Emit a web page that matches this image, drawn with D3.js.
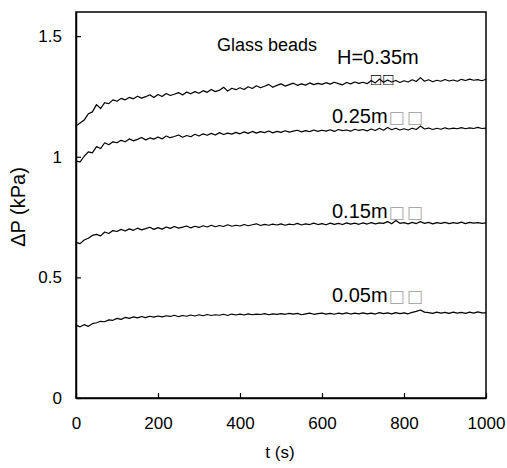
<!DOCTYPE html>
<html><head><meta charset="utf-8">
<script src="https://cdn.jsdelivr.net/npm/d3@7"></script>
<style>
html,body{margin:0;padding:0;background:#fff;}
text{font-family:"Liberation Sans",Arial,sans-serif;fill:#000;}
</style></head>
<body><svg id="chart" width="507" height="468"></svg>
<script>
const times = d3.range(0, 1001, 10);
const xTicks = [0, 200, 400, 600, 800, 1000];
const yTicks = [0, 0.5, 1, 1.5];
const seriesNames = ["H=0.35m", "0.25m", "0.15m", "0.05m"];
const s35 = [
1.128,1.140,1.152,1.178,1.186,1.216,1.200,1.224,1.220,1.236,
1.230,1.242,1.236,1.246,1.240,1.251,1.243,1.249,1.257,1.246,
1.258,1.250,1.262,1.254,1.259,1.266,1.256,1.268,1.261,1.270,
1.263,1.274,1.267,1.279,1.270,1.276,1.288,1.272,1.284,1.278,
1.286,1.279,1.290,1.283,1.294,1.286,1.292,1.300,1.288,1.296,
1.302,1.293,1.299,1.305,1.296,1.302,1.297,1.306,1.299,1.304,
1.300,1.307,1.301,1.309,1.303,1.298,1.308,1.302,1.310,1.304,
1.309,1.303,1.316,1.306,1.322,1.309,1.318,1.310,1.316,1.308,
1.315,1.310,1.319,1.312,1.328,1.313,1.319,1.311,1.317,1.313,
1.320,1.314,1.318,1.313,1.321,1.316,1.322,1.317,1.320,1.315,
1.321];
const s25 = [
0.982,0.979,1.002,1.020,1.016,1.042,1.034,1.058,1.050,1.062,
1.058,1.068,1.062,1.074,1.066,1.072,1.080,1.070,1.078,1.073,
1.082,1.074,1.086,1.079,1.084,1.090,1.081,1.088,1.083,1.093,
1.086,1.095,1.089,1.097,1.090,1.100,1.092,1.098,1.094,1.101,
1.095,1.103,1.097,1.105,1.098,1.104,1.100,1.107,1.099,1.105,
1.101,1.108,1.102,1.106,1.110,1.103,1.108,1.104,1.111,1.105,
1.110,1.106,1.112,1.105,1.113,1.108,1.111,1.106,1.114,1.109,
1.113,1.107,1.115,1.109,1.118,1.110,1.121,1.112,1.118,1.111,
1.116,1.111,1.118,1.113,1.127,1.115,1.119,1.113,1.118,1.114,
1.120,1.115,1.119,1.116,1.121,1.116,1.120,1.117,1.122,1.117,
1.119];
const s15 = [
0.645,0.640,0.655,0.662,0.674,0.678,0.672,0.688,0.682,0.694,
0.690,0.699,0.692,0.701,0.695,0.704,0.697,0.702,0.708,0.699,
0.706,0.700,0.709,0.703,0.711,0.704,0.708,0.713,0.705,0.712,
0.707,0.714,0.709,0.716,0.710,0.715,0.711,0.718,0.712,0.716,
0.713,0.719,0.714,0.718,0.722,0.715,0.720,0.716,0.721,0.717,
0.722,0.716,0.721,0.718,0.724,0.717,0.722,0.719,0.725,0.719,
0.723,0.718,0.725,0.720,0.724,0.719,0.726,0.721,0.725,0.720,
0.726,0.721,0.727,0.722,0.726,0.724,0.731,0.722,0.736,0.724,
0.727,0.722,0.728,0.723,0.731,0.724,0.728,0.722,0.727,0.724,
0.728,0.723,0.727,0.724,0.729,0.723,0.728,0.725,0.727,0.724,
0.726];
const s05 = [
0.302,0.295,0.304,0.297,0.308,0.312,0.318,0.316,0.324,0.322,
0.330,0.326,0.334,0.330,0.336,0.332,0.338,0.333,0.339,0.335,
0.340,0.336,0.341,0.338,0.343,0.337,0.342,0.339,0.344,0.340,
0.345,0.341,0.346,0.342,0.345,0.343,0.347,0.342,0.348,0.344,
0.348,0.344,0.349,0.345,0.348,0.346,0.350,0.345,0.349,0.347,
0.350,0.347,0.351,0.348,0.351,0.345,0.349,0.352,0.347,0.350,
0.352,0.348,0.351,0.347,0.352,0.349,0.353,0.348,0.352,0.349,
0.353,0.349,0.352,0.348,0.354,0.350,0.353,0.349,0.354,0.350,
0.353,0.349,0.355,0.359,0.365,0.356,0.354,0.351,0.356,0.352,
0.355,0.351,0.356,0.352,0.355,0.351,0.356,0.352,0.357,0.353,
0.353];
const seriesValues = [s35, s25, s15, s05];

const svg = d3.select("#chart");
const L = 76, R = 486, T = 12, B = 398;
const x = d3.scaleLinear().domain([0, 1000]).range([L, R]);
const y = d3.scaleLinear().domain([0, 1.6]).range([B, T]);

svg.append("rect").attr("x", L).attr("y", T).attr("width", R - L).attr("height", B - T)
  .attr("fill", "none").attr("stroke", "#000").attr("stroke-width", 1.5);

const gx = svg.append("g").attr("transform", `translate(0,${B})`)
  .call(d3.axisBottom(x).tickValues(xTicks).tickFormat(d3.format("d")).tickSizeInner(-5).tickSizeOuter(0).tickPadding(19));
const gy = svg.append("g").attr("transform", `translate(${L},0)`)
  .call(d3.axisLeft(y).tickValues(yTicks).tickFormat(d => String(d)).tickSizeInner(-5).tickSizeOuter(0).tickPadding(14));
[gx, gy].forEach(g => {
  g.select(".domain").attr("stroke", "#000").attr("stroke-width", 1.5);
  g.selectAll(".tick line").attr("stroke", "#000").attr("stroke-width", 1.2);
  g.selectAll(".tick text").attr("font-size", 17).attr("font-family", "Liberation Sans, Arial, sans-serif").attr("fill", "#000");
});

svg.append("text").attr("x", 280).attr("y", 458).attr("text-anchor", "middle").attr("font-size", 17).text("t (s)");
svg.append("text").attr("transform", "translate(25,207) rotate(-90)").attr("text-anchor", "middle").attr("font-size", 20).text("ΔP (kPa)");

svg.append("text").attr("x", 217).attr("y", 51).attr("font-size", 18).text("Glass beads");
const labelPos = [[337, 64], [332, 123], [332, 218], [332, 302]];
seriesNames.forEach((n, i) => {
  const t = svg.append("text").attr("x", labelPos[i][0]).attr("y", labelPos[i][1]).attr("font-size", 20).text(n);
  if (i > 0) {
    t.append("tspan").attr("font-family", "DejaVu Sans").attr("font-size", 17).attr("fill", "#aaa")
      .attr("dx", 1).attr("letter-spacing", 2).text("□□");
  }
});
svg.append("text").attr("x", 371).attr("y", 85).attr("font-family", "DejaVu Sans").attr("font-size", 17)
  .attr("fill", "#aaa").attr("letter-spacing", 2).text("□□");

const line = d3.line().x((d, i) => x(times[i])).y(d => y(d));
seriesValues.forEach(vals => {
  svg.append("path").datum(vals).attr("d", line).attr("fill", "none")
    .attr("stroke", "#000").attr("stroke-width", 1.2).attr("stroke-linejoin", "round");
});
</script></body></html>
